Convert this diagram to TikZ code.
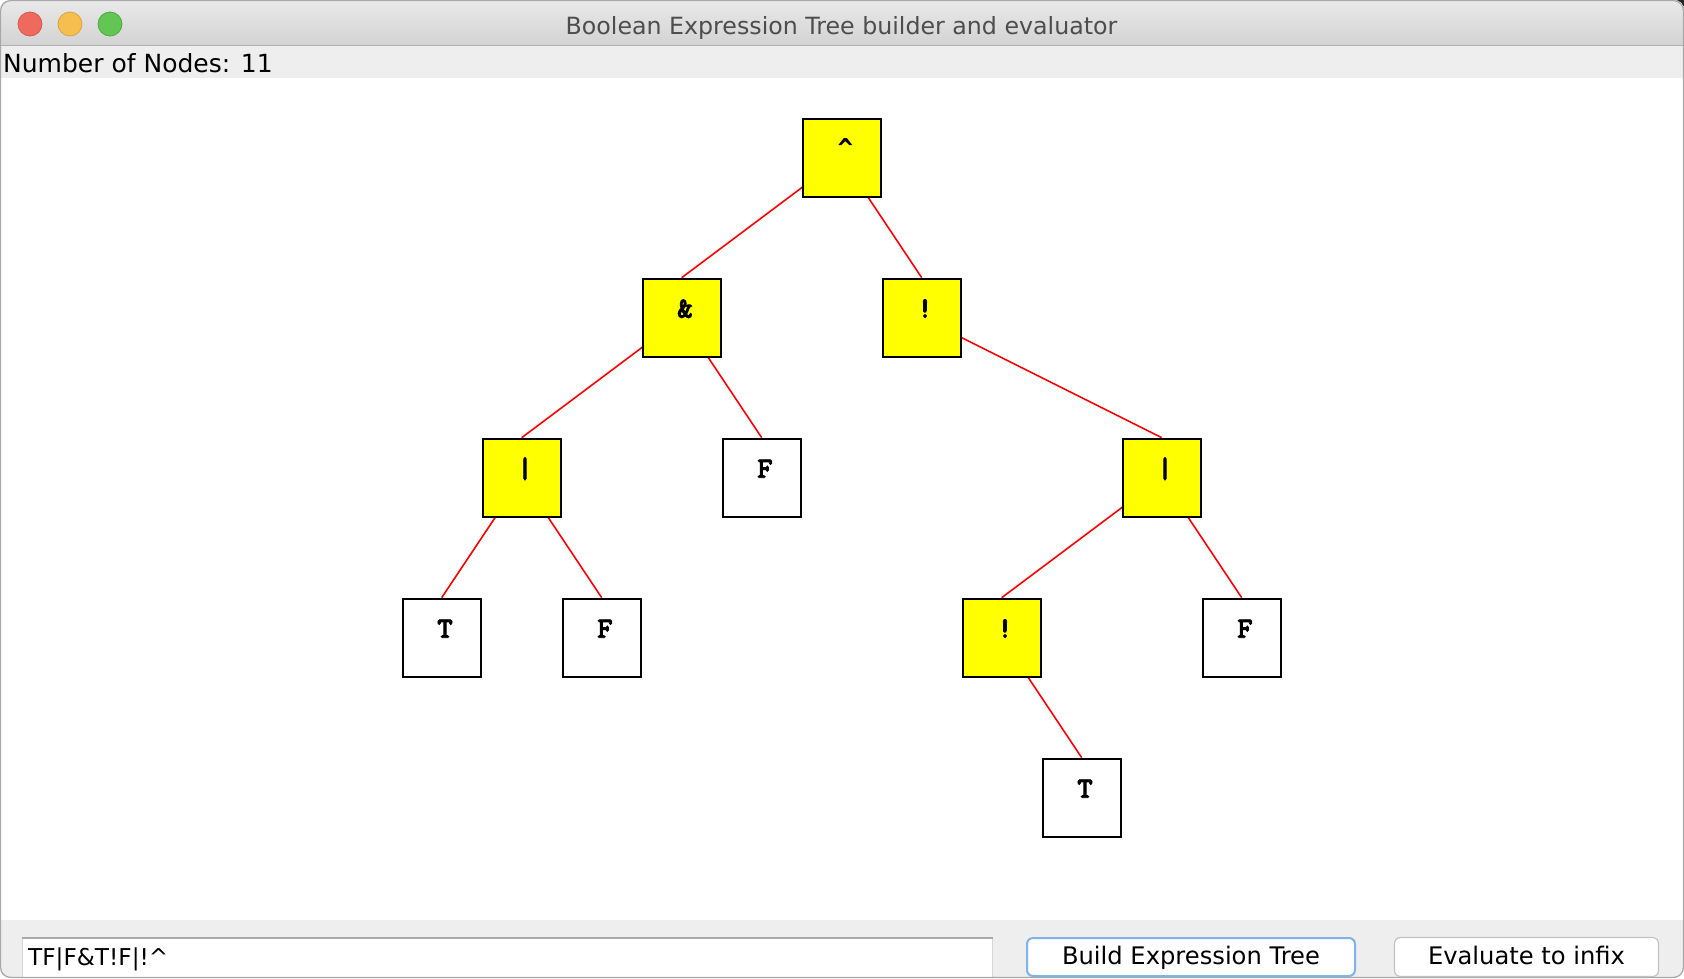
\documentclass[tikz,border=0pt]{standalone}
\usepackage{fontspec}
\setmainfont{DejaVu Sans}
\newfontfamily\caretfont{DejaVu Sans Mono}
\font\treefnt="[lmmonolt10-bold.otf]:embolden=2.5" at 29.5pt
\pgfdeclarelayer{bg}
\pgfdeclarelayer{edges}
\pgfsetlayers{bg,edges,main}
\definecolor{tbtop}{HTML}{E9E9E9}
\definecolor{tbbot}{HTML}{D3D3D3}
\definecolor{tbline}{HTML}{B1B1B1}
\definecolor{panel}{HTML}{EEEEEE}
\definecolor{titlegray}{HTML}{4D4D4D}
\definecolor{winborder}{HTML}{A8A8A8}
\definecolor{fieldtop}{HTML}{A9A9A9}
\definecolor{fieldside}{HTML}{D6D6D6}
\definecolor{btnblue}{HTML}{7FB2EC}
\definecolor{btngray}{HTML}{C2C2C2}
\definecolor{tlred}{HTML}{EE6A5F}
\definecolor{tlredb}{HTML}{D9574C}
\definecolor{tlyel}{HTML}{F6BE4F}
\definecolor{tlyelb}{HTML}{DCA23E}
\definecolor{tlgrn}{HTML}{62C655}
\definecolor{tlgrnb}{HTML}{4FAA41}
\definecolor{nodeyellow}{HTML}{FFFF00}
\tikzset{
  tnode/.style={draw=black, line width=2pt, minimum size=78pt, inner sep=0pt,
    font=\treefnt,
    text height=0pt, text depth=0pt,
    execute at begin node={\hspace*{6.6pt}}},
  opnode/.style={tnode, fill=nodeyellow},
  leafnode/.style={tnode, fill=white},
  edge/.style={draw=red, line width=1.6pt},
  btn/.style={rounded corners=6pt, fill=white, inner sep=0pt,
    font=\fontsize{24.2}{26}\selectfont, text height=20.4pt, text depth=5pt},
  light/.style={circle, minimum size=24pt, inner sep=0pt, line width=0.8pt},
}
\begin{document}
\begin{tikzpicture}[x=1pt,y=-1pt]
\useasboundingbox (0,0) rectangle (1684,978);
\begin{pgfonlayer}{bg}
  \fill[white] (0,0) rectangle (1684,978);
  \fill[black!85] (1640,0) rectangle (1684,12);
  \begin{scope}
    \clip[rounded corners=10pt] (0,0) rectangle (1684,978);
    \fill[white] (0,0) rectangle (1684,978);
    \shade[top color=tbtop, bottom color=tbbot] (0,0) rectangle (1684,45);
    \draw[tbline, line width=1.2pt] (0,45.4) -- (1684,45.4);
    \fill[panel] (0,46) rectangle (1684,78);
    \fill[panel] (0,920) rectangle (1684,978);
    % text field
    \fill[white] (21.7,937) rectangle (993,990);
    \draw[fieldside, line width=1pt] (22.2,937) -- (22.2,990);
    \draw[fieldside, line width=1pt] (992.5,937) -- (992.5,990);
    \draw[fieldtop, line width=2pt] (21.7,938) -- (993,938);
  \end{scope}
  \draw[winborder, line width=1.2pt, rounded corners=10pt] (0.6,0.6) rectangle (1683.4,977.4);
\end{pgfonlayer}

% traffic lights
\node[light, fill=tlred, draw=tlredb] (red) at (30,24) {};
\node[light, fill=tlyel, draw=tlyelb] (yel) at (70,24) {};
\node[light, fill=tlgrn, draw=tlgrnb] (grn) at (110,24) {};

% title and labels
\node[anchor=base, inner sep=0pt, text=titlegray, font=\fontsize{23.7}{25}\selectfont] (title) at (841.5,34)
  {Boolean Expression Tree builder and evaluator};
\node[anchor=base west, inner sep=0pt, font=\fontsize{25}{27}\selectfont] (count) at (3,72)
  {Number of Nodes: 11};
\node[anchor=base west, inner sep=0pt, font=\fontsize{23.2}{25}\selectfont] (expr) at (28,965.7)
  {TF|F\&T!F|!\char94};

% buttons
\node[btn, draw=btnblue, line width=2pt, minimum width=328pt, minimum height=38pt] (build) at (1191,957)
  {Build Expression Tree};
\node[btn, draw=btngray, line width=1.2pt, minimum width=264pt, minimum height=39pt] (evalb) at (1526.5,957)
  {Evaluate to infix};

% tree nodes
\node[opnode]   (r) at (841.7,157.7) {\hspace*{1pt}{\caretfont\bfseries\fontsize{26}{26}\selectfont\char94}};
\node[opnode]   (a) at (681.7,317.7) {\&};
\node[opnode]   (b) at (921.7,317.7) {!};
\node[opnode]   (c) at (521.7,477.7) {|};
\node[leafnode] (d) at (761.7,477.7) {F};
\node[opnode]   (e) at (1161.7,477.7) {|};
\node[leafnode] (f) at (441.7,637.7) {T};
\node[leafnode] (g) at (601.7,637.7) {F};
\node[opnode]   (h) at (1001.7,637.7) {!};
\node[leafnode] (i) at (1241.7,637.7) {F};
\node[leafnode] (j) at (1081.7,797.7) {T};

\begin{pgfonlayer}{edges}
  \draw[edge] (r.center) -- (a.north);
  \draw[edge] (r.center) -- (b.north);
  \draw[edge] (a.center) -- (c.north);
  \draw[edge] (a.center) -- (d.north);
  \draw[edge] (b.center) -- (e.north);
  \draw[edge] (c.center) -- (f.north);
  \draw[edge] (c.center) -- (g.north);
  \draw[edge] (e.center) -- (h.north);
  \draw[edge] (e.center) -- (i.north);
  \draw[edge] (h.center) -- (j.north);
\end{pgfonlayer}
\end{tikzpicture}
\end{document}
